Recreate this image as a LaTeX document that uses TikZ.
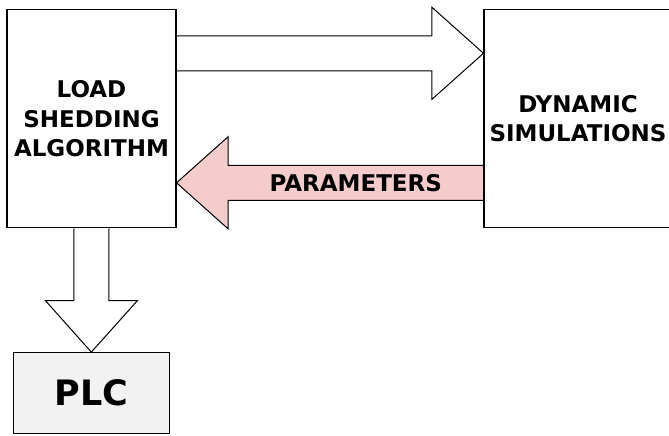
\documentclass[tikz,border=0pt]{standalone}
\usepackage{fontspec}
\usepackage{tikz}
\usetikzlibrary{calc, backgrounds}
\newfontfamily\boxfont{DejaVu Sans}
\definecolor{parpink}{RGB}{245,204,204}
\definecolor{plcgrey}{RGB}{242,242,242}

\tikzset{
	block/.style={draw=black, line width=1.1pt, align=center, font=\boxfont\bfseries\fontsize{23}{29.5}\selectfont},
	fat/.style={draw=black, line width=1pt, fill=white, line join=miter},
}

\newcommand{\fatarrow}[3][]{%
	\coordinate (hb) at ($(#3)!51.5pt!(#2)$);
	\draw[fat, #1] ($(#2)!17.5pt!90:(#3)$) -- ($(hb)!17.5pt!-90:(#2)$) -- ($(hb)!46pt!-90:(#2)$)
		-- (#3) -- ($(hb)!46pt!90:(#2)$) -- ($(hb)!17.5pt!90:(#2)$) -- ($(#2)!17.5pt!-90:(#3)$);
}

\begin{document}
\begin{tikzpicture}[x=1pt, y=-1pt]
			\useasboundingbox (0,0) rectangle (669,436);
			\node[block, minimum width=169pt, minimum height=218pt] (lsa) at (91.5,118.8) {LOAD\\SHEDDING\\ALGORITHM};
			\node[block, minimum width=188pt, minimum height=218pt] (dsim) at (578,118.8) {DYNAMIC\\SIMULATIONS};
			\node[block, fill=plcgrey, minimum width=156pt, minimum height=80.7pt, font=\boxfont\bfseries\fontsize{35}{40}\selectfont] (plc) at (91.3,393) {PLC};
			\coordinate (up1) at ($(lsa.east)+(0,-65.5)$);
			\coordinate (up2) at ($(dsim.west)+(0,-65.5)$);
			\coordinate (lo1) at ($(dsim.west)+(0,64)$);
			\coordinate (lo2) at ($(lsa.east)+(0,64)$);
			\begin{scope}[on background layer]
				\fatarrow{lsa.south}{plc.north}
				\fatarrow{up1}{up2}
				\fatarrow[fill=parpink]{lo1}{lo2}
			\end{scope}
			\node[font=\boxfont\bfseries\fontsize{23}{29.5}\selectfont] (par) at ($(lo1)!0.5!(hb)$) {PARAMETERS};
		\end{tikzpicture}
\end{document}
